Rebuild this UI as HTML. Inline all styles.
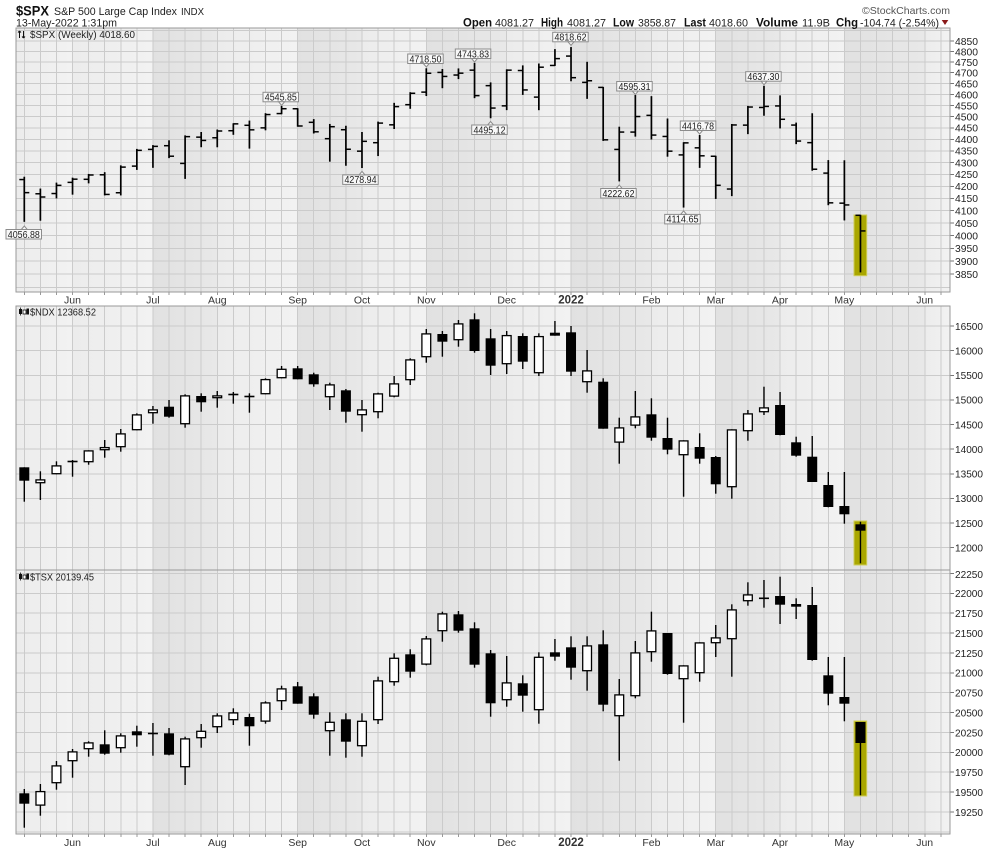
<!DOCTYPE html>
<html><head><meta charset="utf-8">
<style>
html,body{margin:0;padding:0;background:#fff;}
svg{display:block;font-family:"Liberation Sans",Arial,sans-serif;}
.yl{font-size:10.5px;fill:#222;}
.xl{font-size:10.5px;fill:#333;text-anchor:middle;}
.an{font-size:10px;fill:#222;text-anchor:middle;}
.ab{fill:#f8f8f8;stroke:#8c8c8c;stroke-width:1;}
</style></head><body>
<svg id="c" width="1000" height="850" viewBox="0 0 1000 850" xmlns="http://www.w3.org/2000/svg">
<defs>
<linearGradient id="gd" x1="0" x2="1" y1="0" y2="0"><stop offset="0" stop-color="#e1e1e1"/><stop offset="1" stop-color="#e8e8e8"/></linearGradient>
<linearGradient id="gl" x1="0" x2="1" y1="0" y2="0"><stop offset="0" stop-color="#ececec"/><stop offset="1" stop-color="#f2f2f2"/></linearGradient>
</defs>
<rect x="0" y="0" width="1000" height="850" fill="#fff"/>
<g id="bg"></g>
<g id="grid" shape-rendering="crispEdges"></g>
<g id="hl"></g>
<g id="bars"></g>
<g id="frames" fill="none" stroke="#999" stroke-width="1" shape-rendering="crispEdges">
<rect x="16" y="28" width="934" height="264"/>
<rect x="16" y="306" width="934" height="264"/>
<rect x="16" y="570" width="934" height="264"/>
</g>

<!-- Header -->
<text x="16" y="15.5" font-size="14" font-weight="bold" fill="#111" textLength="33" lengthAdjust="spacingAndGlyphs">$SPX</text>
<text x="54" y="15" font-size="11" fill="#222" textLength="123" lengthAdjust="spacingAndGlyphs">S&amp;P 500 Large Cap Index</text>
<text x="181" y="15" font-size="10" fill="#222" textLength="23" lengthAdjust="spacingAndGlyphs">INDX</text>
<text x="16" y="26.5" font-size="11" fill="#222" textLength="101" lengthAdjust="spacingAndGlyphs">13-May-2022 1:31pm</text>
<text x="862" y="14" font-size="10.5" fill="#555" textLength="88" lengthAdjust="spacingAndGlyphs">©StockCharts.com</text>

<text x="463" y="26.5" font-size="12" font-weight="bold" fill="#111" textLength="29" lengthAdjust="spacingAndGlyphs">Open</text>
<text x="495" y="26.5" font-size="11" fill="#222" textLength="39" lengthAdjust="spacingAndGlyphs">4081.27</text>
<text x="541" y="26.5" font-size="12" font-weight="bold" fill="#111" textLength="22" lengthAdjust="spacingAndGlyphs">High</text>
<text x="567" y="26.5" font-size="11" fill="#222" textLength="39" lengthAdjust="spacingAndGlyphs">4081.27</text>
<text x="613" y="26.5" font-size="12" font-weight="bold" fill="#111" textLength="21" lengthAdjust="spacingAndGlyphs">Low</text>
<text x="638" y="26.5" font-size="11" fill="#222" textLength="38" lengthAdjust="spacingAndGlyphs">3858.87</text>
<text x="684" y="26.5" font-size="12" font-weight="bold" fill="#111" textLength="22" lengthAdjust="spacingAndGlyphs">Last</text>
<text x="709" y="26.5" font-size="11" fill="#222" textLength="39" lengthAdjust="spacingAndGlyphs">4018.60</text>
<text x="756" y="26.5" font-size="12" font-weight="bold" fill="#111" textLength="42" lengthAdjust="spacingAndGlyphs">Volume</text>
<text x="802" y="26.5" font-size="11" fill="#222" textLength="28" lengthAdjust="spacingAndGlyphs">11.9B</text>
<text x="836" y="26.5" font-size="12" font-weight="bold" fill="#111" textLength="22" lengthAdjust="spacingAndGlyphs">Chg</text>
<text x="860" y="26.5" font-size="11" fill="#222" textLength="79" lengthAdjust="spacingAndGlyphs">-104.74 (-2.54%)</text>
<polygon points="941.7,20 948.3,20 945,25" fill="#8b1a1a"/>

<!-- Panel titles -->
<g stroke="#111" stroke-width="1" fill="none">
<line x1="19.5" y1="31" x2="19.5" y2="38"/><line x1="18" y1="32.5" x2="19.5" y2="31"/><line x1="21" y1="32.5" x2="19.5" y2="31"/>
<line x1="23.5" y1="31" x2="23.5" y2="38"/><line x1="22" y1="36.5" x2="23.5" y2="38"/><line x1="25" y1="36.5" x2="23.5" y2="38"/>
</g>
<text x="30" y="38" font-size="10.5" fill="#222" textLength="105" lengthAdjust="spacingAndGlyphs">$SPX (Weekly) 4018.60</text>
<g fill="#111">
<rect x="19" y="309" width="3" height="5"/><rect x="20.2" y="307.5" width="0.8" height="8"/>
<rect x="23" y="310" width="3" height="4" fill="#fff" stroke="#111" stroke-width="0.8"/>
<rect x="26.5" y="308.5" width="2.5" height="6"/>
</g>
<text x="30" y="315.5" font-size="10.5" fill="#222" textLength="66" lengthAdjust="spacingAndGlyphs">$NDX 12368.52</text>
<g fill="#111">
<rect x="19" y="574" width="3" height="5"/><rect x="20.2" y="572.5" width="0.8" height="8"/>
<rect x="23" y="575" width="3" height="4" fill="#fff" stroke="#111" stroke-width="0.8"/>
<rect x="26.5" y="573.5" width="2.5" height="6"/>
</g>
<text x="30" y="580.5" font-size="10.5" fill="#222" textLength="64" lengthAdjust="spacingAndGlyphs">$TSX 20139.45</text>

<!-- Y axis labels panel 1 -->
<g class="yl">
<text x="955" y="44.8" textLength="23" lengthAdjust="spacingAndGlyphs">4850</text>
<text x="955" y="55.3" textLength="23" lengthAdjust="spacingAndGlyphs">4800</text>
<text x="955" y="65.8" textLength="23" lengthAdjust="spacingAndGlyphs">4750</text>
<text x="955" y="76.5" textLength="23" lengthAdjust="spacingAndGlyphs">4700</text>
<text x="955" y="87.3" textLength="23" lengthAdjust="spacingAndGlyphs">4650</text>
<text x="955" y="98.3" textLength="23" lengthAdjust="spacingAndGlyphs">4600</text>
<text x="955" y="109.3" textLength="23" lengthAdjust="spacingAndGlyphs">4550</text>
<text x="955" y="120.4" textLength="23" lengthAdjust="spacingAndGlyphs">4500</text>
<text x="955" y="131.7" textLength="23" lengthAdjust="spacingAndGlyphs">4450</text>
<text x="955" y="143.1" textLength="23" lengthAdjust="spacingAndGlyphs">4400</text>
<text x="955" y="154.7" textLength="23" lengthAdjust="spacingAndGlyphs">4350</text>
<text x="955" y="166.4" textLength="23" lengthAdjust="spacingAndGlyphs">4300</text>
<text x="955" y="178.2" textLength="23" lengthAdjust="spacingAndGlyphs">4250</text>
<text x="955" y="190.1" textLength="23" lengthAdjust="spacingAndGlyphs">4200</text>
<text x="955" y="202.2" textLength="23" lengthAdjust="spacingAndGlyphs">4150</text>
<text x="955" y="214.5" textLength="23" lengthAdjust="spacingAndGlyphs">4100</text>
<text x="955" y="226.9" textLength="23" lengthAdjust="spacingAndGlyphs">4050</text>
<text x="955" y="239.4" textLength="23" lengthAdjust="spacingAndGlyphs">4000</text>
<text x="955" y="252.1" textLength="23" lengthAdjust="spacingAndGlyphs">3950</text>
<text x="955" y="265" textLength="23" lengthAdjust="spacingAndGlyphs">3900</text>
<text x="955" y="278" textLength="23" lengthAdjust="spacingAndGlyphs">3850</text>
</g>
<!-- Y axis labels panel 2 -->
<g class="yl">
<text x="955" y="329.8" textLength="28" lengthAdjust="spacingAndGlyphs">16500</text>
<text x="955" y="354.4" textLength="28" lengthAdjust="spacingAndGlyphs">16000</text>
<text x="955" y="379.1" textLength="28" lengthAdjust="spacingAndGlyphs">15500</text>
<text x="955" y="403.7" textLength="28" lengthAdjust="spacingAndGlyphs">15000</text>
<text x="955" y="428.3" textLength="28" lengthAdjust="spacingAndGlyphs">14500</text>
<text x="955" y="453" textLength="28" lengthAdjust="spacingAndGlyphs">14000</text>
<text x="955" y="477.6" textLength="28" lengthAdjust="spacingAndGlyphs">13500</text>
<text x="955" y="502.2" textLength="28" lengthAdjust="spacingAndGlyphs">13000</text>
<text x="955" y="526.9" textLength="28" lengthAdjust="spacingAndGlyphs">12500</text>
<text x="955" y="551.5" textLength="28" lengthAdjust="spacingAndGlyphs">12000</text>
</g>
<!-- Y axis labels panel 3 -->
<g class="yl">
<text x="955" y="578" textLength="28" lengthAdjust="spacingAndGlyphs">22250</text>
<text x="955" y="597.1" textLength="28" lengthAdjust="spacingAndGlyphs">22000</text>
<text x="955" y="617" textLength="28" lengthAdjust="spacingAndGlyphs">21750</text>
<text x="955" y="636.9" textLength="28" lengthAdjust="spacingAndGlyphs">21500</text>
<text x="955" y="656.8" textLength="28" lengthAdjust="spacingAndGlyphs">21250</text>
<text x="955" y="676.6" textLength="28" lengthAdjust="spacingAndGlyphs">21000</text>
<text x="955" y="696.5" textLength="28" lengthAdjust="spacingAndGlyphs">20750</text>
<text x="955" y="716.4" textLength="28" lengthAdjust="spacingAndGlyphs">20500</text>
<text x="955" y="736.3" textLength="28" lengthAdjust="spacingAndGlyphs">20250</text>
<text x="955" y="756.1" textLength="28" lengthAdjust="spacingAndGlyphs">20000</text>
<text x="955" y="776" textLength="28" lengthAdjust="spacingAndGlyphs">19750</text>
<text x="955" y="795.9" textLength="28" lengthAdjust="spacingAndGlyphs">19500</text>
<text x="955" y="815.8" textLength="28" lengthAdjust="spacingAndGlyphs">19250</text>
</g>

<!-- X axis labels -->
<g class="xl">
<text x="72.5" y="303.5">Jun</text>
<text x="152.9" y="303.5">Jul</text>
<text x="217.3" y="303.5">Aug</text>
<text x="297.7" y="303.5">Sep</text>
<text x="362" y="303.5">Oct</text>
<text x="426.3" y="303.5">Nov</text>
<text x="506.7" y="303.5">Dec</text>
<text x="571" y="303.5" font-weight="bold" font-size="11.5">2022</text>
<text x="651.4" y="303.5">Feb</text>
<text x="715.7" y="303.5">Mar</text>
<text x="780" y="303.5">Apr</text>
<text x="844.3" y="303.5">May</text>
<text x="924.7" y="303.5">Jun</text>
</g>
<g class="xl">
<text x="72.5" y="846">Jun</text>
<text x="152.9" y="846">Jul</text>
<text x="217.3" y="846">Aug</text>
<text x="297.7" y="846">Sep</text>
<text x="362" y="846">Oct</text>
<text x="426.3" y="846">Nov</text>
<text x="506.7" y="846">Dec</text>
<text x="571" y="846" font-weight="bold" font-size="11.5">2022</text>
<text x="651.4" y="846">Feb</text>
<text x="715.7" y="846">Mar</text>
<text x="780" y="846">Apr</text>
<text x="844.3" y="846">May</text>
<text x="924.7" y="846">Jun</text>
</g>

<!-- Annotation labels -->
<g>
<rect class="ab" x="6" y="229.5" width="35.5" height="9.5"/><polygon class="ab" points="21.3,229.5 24.3,226 27.3,229.5"/>
<text class="an" x="23.8" y="237.8" textLength="32" lengthAdjust="spacingAndGlyphs">4056.88</text>

<rect class="ab" x="263" y="92.3" width="35.5" height="9.5"/><polygon class="ab" points="278.6,101.8 281.6,105.3 284.6,101.8"/>
<text class="an" x="280.8" y="100.6" textLength="32" lengthAdjust="spacingAndGlyphs">4545.85</text>

<rect class="ab" x="342.7" y="174.9" width="35.5" height="9.5"/><polygon class="ab" points="359,174.9 362,171.4 365,174.9"/>
<text class="an" x="360.5" y="183.2" textLength="32" lengthAdjust="spacingAndGlyphs">4278.94</text>

<rect class="ab" x="407.7" y="54" width="35.5" height="9.5"/><polygon class="ab" points="423.3,63.5 426.3,67 429.3,63.5"/>
<text class="an" x="425.5" y="62.3" textLength="32" lengthAdjust="spacingAndGlyphs">4718.50</text>

<rect class="ab" x="455.3" y="49" width="35.5" height="9.5"/><polygon class="ab" points="471.5,58.5 474.5,62 477.5,58.5"/>
<text class="an" x="473.1" y="57.3" textLength="32" lengthAdjust="spacingAndGlyphs">4743.83</text>

<rect class="ab" x="471.7" y="125" width="35.5" height="9.5"/><polygon class="ab" points="487.6,125 490.6,121.5 493.6,125"/>
<text class="an" x="489.5" y="133.3" textLength="32" lengthAdjust="spacingAndGlyphs">4495.12</text>

<rect class="ab" x="552.7" y="32.3" width="35.5" height="9.5"/><polygon class="ab" points="568,41.8 571,45.3 574,41.8"/>
<text class="an" x="570.5" y="40.6" textLength="32" lengthAdjust="spacingAndGlyphs">4818.62</text>

<rect class="ab" x="616.7" y="81.5" width="35.5" height="9.5"/><polygon class="ab" points="632.3,91 635.3,94.5 638.3,91"/>
<text class="an" x="634.5" y="89.8" textLength="32" lengthAdjust="spacingAndGlyphs">4595.31</text>

<rect class="ab" x="600.7" y="188.5" width="35.5" height="9.5"/><polygon class="ab" points="616.2,188.5 619.2,185 622.2,188.5"/>
<text class="an" x="618.5" y="196.8" textLength="32" lengthAdjust="spacingAndGlyphs">4222.62</text>

<rect class="ab" x="664.7" y="214.4" width="35.5" height="9.5"/><polygon class="ab" points="680.6,214.4 683.6,210.9 686.6,214.4"/>
<text class="an" x="682.5" y="222.7" textLength="32" lengthAdjust="spacingAndGlyphs">4114.65</text>

<rect class="ab" x="680.3" y="121" width="35.5" height="9.5"/><polygon class="ab" points="696.6,130.5 699.6,134 702.6,130.5"/>
<text class="an" x="698" y="129.3" textLength="32" lengthAdjust="spacingAndGlyphs">4416.78</text>

<rect class="ab" x="745.7" y="71.7" width="35.5" height="9.5"/><polygon class="ab" points="761,81.2 764,84.7 767,81.2"/>
<text class="an" x="763.4" y="80" textLength="32" lengthAdjust="spacingAndGlyphs">4637.30</text>
</g>
</svg>
<script>
(function(){
const NS="http://www.w3.org/2000/svg";
function el(tag,attrs,parent){const e=document.createElementNS(NS,tag);for(const k in attrs)e.setAttribute(k,attrs[k]);parent.appendChild(e);return e;}
const X=i=>24.3+16.08*i;
const bg=document.getElementById('bg'),grid=document.getElementById('grid'),bars=document.getElementById('bars'),hl=document.getElementById('hl');
const panels=[[28,292],[306,570],[570,834]];
const bounds=[16,72.5,152.9,217.3,297.7,362,426.3,506.7,571,651.4,715.7,780,844.3,924.7,950];
const y1=p=>41+1010*Math.log(4850/p);
const y2=p=>326+(16500-p)*0.04927;
const y3=p=>593.3+(22000-p)*0.0795;
panels.forEach(([t,b])=>{
  for(let k=0;k<bounds.length-1;k++){
    const dark=(k%2==0)&&k>0;
    el('rect',{x:bounds[k],y:t,width:bounds[k+1]-bounds[k],height:b-t,fill:dark?'url(#gd)':'url(#gl)'},bg);
  }
  for(let i=0;i<=57;i++) el('line',{x1:X(i),x2:X(i),y1:t,y2:b,stroke:'#cbcbcb','stroke-width':1},grid);
});
function hline(y,t,b){ if(y>t+0.5&&y<b-0.5){el('line',{x1:16,x2:950,y1:y,y2:y,stroke:'#cbcbcb','stroke-width':1},grid);} }
function ytick(y){el('line',{x1:950,x2:954,y1:y,y2:y,stroke:'#777','stroke-width':1},grid);}
for(let p=3800;p<=4900;p+=50){const y=y1(p);hline(y,28,292);if(p>=3850&&p<=4850)ytick(y);}
for(let p=12000;p<=16500;p+=500){const y=y2(p);hline(y,306,570);ytick(y);}
for(let p=19000;p<=22250;p+=250){const y=y3(p);hline(y,570,834);if(p>=19250)ytick(y);}
for(let i=0;i<=57;i++){
  el('line',{x1:X(i),x2:X(i),y1:292,y2:295,stroke:'#999','stroke-width':1},grid);
  el('line',{x1:X(i),x2:X(i),y1:834,y2:837,stroke:'#999','stroke-width':1},grid);
}
[[215,275.7],[521,565],[721,796]].forEach(([a,b])=>{
  el('rect',{x:854,y:a,width:12.7,height:b-a,fill:'#aaa700',stroke:'#cfcd5a','stroke-width':1},hl);
});
const spx=[
[4228.29,4238.04,4056.88,4173.85],[4169.14,4188.72,4061.41,4155.86],[4170.16,4213.42,4152.15,4204.11],
[4216.52,4234.12,4167.59,4229.89],[4229.34,4249.74,4214.43,4247.44],[4248.31,4257.16,4164.40,4166.45],
[4173.40,4286.12,4164.40,4280.70],[4284.90,4356.46,4271.0,4352.34],[4356.46,4372.87,4279.8,4369.55],
[4372.41,4393.68,4321.07,4327.16],[4296.40,4415.18,4233.13,4411.79],[4409.58,4429.97,4368.0,4395.26],
[4406.86,4440.82,4367.73,4436.52],[4437.77,4468.37,4422.0,4468.00],[4461.65,4480.26,4362.0,4441.67],
[4450.29,4513.33,4441.67,4509.37],[4513.76,4545.85,4513.0,4535.43],[4535.38,4535.43,4457.66,4458.58],
[4474.81,4486.87,4427.76,4432.99],[4402.95,4465.40,4305.91,4455.48],[4442.12,4457.40,4288.52,4357.04],
[4348.84,4429.97,4278.94,4391.34],[4385.44,4475.82,4329.92,4471.37],[4463.72,4559.67,4447.47,4544.90],
[4553.69,4608.08,4537.36,4605.38],[4610.62,4718.50,4595.06,4697.53],[4701.48,4714.92,4630.86,4682.85],
[4689.30,4717.75,4672.78,4697.96],[4712.00,4743.83,4585.43,4594.62],[4640.25,4652.94,4495.12,4538.43],
[4548.37,4713.57,4531.32,4712.02],[4710.30,4731.99,4600.22,4620.64],[4587.90,4740.74,4531.10,4725.79],
[4733.99,4808.93,4733.99,4766.18],[4778.14,4818.62,4662.74,4677.03],[4655.34,4748.83,4582.24,4662.85],
[4632.24,4632.24,4395.34,4397.94],[4356.32,4453.23,4222.62,4431.85],[4431.79,4595.31,4414.02,4500.53],
[4505.75,4590.03,4401.41,4418.64],[4412.61,4489.55,4327.22,4348.87],[4332.74,4385.34,4114.65,4384.65],
[4363.14,4416.78,4279.54,4328.87],[4327.01,4327.01,4150.0,4204.31],[4188.82,4465.40,4161.72,4463.12],
[4462.40,4546.03,4424.94,4543.06],[4541.09,4637.30,4506.27,4545.86],[4547.97,4593.45,4450.04,4488.28],
[4462.64,4471.35,4381.34,4392.59],[4385.63,4512.94,4267.62,4271.78],[4255.34,4308.45,4124.28,4131.93],
[4130.61,4307.66,4062.51,4123.34],[4081.27,4081.27,3858.87,4018.60]];
spx.forEach((d,i)=>{
  const x=X(i);
  el('line',{x1:x,x2:x,y1:y1(d[1])-0.5,y2:y1(d[2])+0.5,stroke:'#000','stroke-width':1.7},bars);
  el('line',{x1:x-5,x2:x,y1:y1(d[0]),y2:y1(d[0]),stroke:'#000','stroke-width':1.5},bars);
  el('line',{x1:x,x2:x+5,y1:y1(d[3]),y2:y1(d[3]),stroke:'#000','stroke-width':1.5},bars);
});
const ndx=[
[467.3,467.3,480.7,501.7,1],[471.3,479.3,483.3,500,0],[461.3,465.3,474.3,474.3,0],[460,461,462,476.7,0],
[450.3,450.3,462.3,464.7,0],[440,447,450.3,457.7,0],[429,433.3,447.3,451.7,0],[413.3,414.3,430.3,430.3,0],
[406,409.3,413.3,423.7,0],[400,406.7,416.7,417.7,1],[394.3,395.3,424.3,427.7,0],[393.3,396,402.3,411.7,1],
[391,395.3,398.3,407.7,0],[392,394,395,403.7,0],[393.3,396,397,412.7,0],[378.3,379,394.3,394.3,0],
[366,368.7,378.3,378.3,0],[366,368.3,379.3,379.3,1],[372.7,374.3,384.3,386.7,1],[382.7,384.3,397.3,410,0],
[389,390.3,411.7,422.7,1],[400,409.3,415.3,431.7,0],[392.7,393.3,412.3,418.3,0],[376,383.3,396.7,397.3,0],
[358.3,359.3,380.3,385,0],[329,333.3,357.3,362.7,0],[331,334,341.7,356.7,1],[320,323.3,340.3,346.7,0],
[313.3,319.3,351,352.7,1],[329,338.3,365.7,375,1],[331,335,364.3,374,0],[333.3,336,361.7,369,1],
[333.3,336,373.3,376,0],[321,332.7,335.7,335.7,1],[326,332.3,371.7,376,1],[350,370.3,382.3,392.7,0],
[378.3,381.7,428.7,428.7,1],[417.7,427.3,442.7,463.7,0],[391,416.3,425.7,428.3,0],[398.3,414.3,437.7,440.7,1],
[417.7,438,449.7,454.3,1],[440.3,440.3,455.3,496.7,0],[433.3,447,458.7,463.7,1],[456,457,484.3,493.7,1],
[429.3,429.3,487.3,498.7,0],[410,413.3,431.3,440.7,0],[386.7,407.3,412.3,415,0],[392,405,435,435.3,1],
[436.7,442.3,455.7,456.7,1],[436,456.7,482,482,1],[472,485,507,507.3,1],[472,506,514.3,523.7,1],
[521.7,524.3,530.7,563.3,1]];
const tsx=[
[789,793.3,803.7,827.7,1],[784,791,805.7,815.7,0],[761,765.3,783.3,789.7,0],[749,751.3,761.3,777.7,0],
[741.3,742.3,749.3,756.7,0],[730.3,744.3,753.7,754.7,1],[733.3,735.3,748.3,752.7,0],[725.7,731.3,735.3,746.7,1],
[723,733,734,755.7,0],[728,733.3,754.7,755.3,1],[736.7,738.3,767.3,785,0],[724,730.7,738.3,747.7,0],
[713.3,715.3,727.3,733,0],[708.3,712.3,720.3,725,0],[713.7,717,726.3,745.7,1],[701.3,702.3,721.7,723.7,0],
[685.7,688.3,701.3,710,0],[682,686.3,703.7,703.7,1],[693.3,696.3,714.7,718.7,1],[712.3,721.7,731.3,755.7,0],
[713.3,719.3,741.7,757.7,1],[713.3,720.7,746.3,756.7,0],[676.7,680.3,720.3,724,0],[653.3,657.7,682.3,685.7,0],
[649.3,654.3,671.7,677.7,1],[636,638.3,664.7,665.3,0],[611.7,613.3,631.3,641.7,0],[611,614.3,630.7,632.7,1],
[622.3,628.3,664.7,667.7,1],[650,653.3,703.3,716.7,1],[656,682.3,700.3,706.7,0],[675.3,683.3,695.7,711.7,1],
[652.3,656.7,710.3,723.7,0],[639,652.3,656.7,660.7,1],[636.3,647.3,667.7,679.7,1],[636.3,645.3,671.3,690.7,0],
[630.3,644.3,704.7,711.3,1],[679,694.3,716.3,760.7,0],[641,652.3,696.3,698.3,0],[611.7,630.3,652.3,661.7,0],
[633,633,674,674.7,1],[665.3,665.3,679.3,722.7,0],[642.3,642.3,673.3,681.7,0],[625,637.3,643.3,657,0],
[604.3,609.3,639.3,676.7,0],[582.3,594.3,601.3,605.7,0],[580,597.8,598.8,607.7,0],[576.7,596,604.7,624,1],
[598.3,604,606.7,619,1],[587,605,660,660.7,1],[657,675.3,693.7,705.3,1],[657,697,703.7,721.3,1],
[722,722,743,795.3,1]];
function candles(arr){
  arr.forEach((d,i)=>{
    const x=X(i);
    el('line',{x1:x,x2:x,y1:d[0],y2:d[3],stroke:'#000','stroke-width':1.4},bars);
    const h=d[2]-d[1];
    if(h<2.2){
      const ym=(d[1]+d[2])/2;
      el('rect',{x:x-5,y:ym-0.8,width:10,height:1.6,fill:'#000'},bars);
    } else if(d[4]){
      el('rect',{x:x-5,y:d[1],width:10,height:h,fill:'#000'},bars);
    } else {
      el('rect',{x:x-4.4,y:d[1]+0.6,width:8.8,height:h-1.2,fill:'#fff',stroke:'#000','stroke-width':1.3},bars);
    }
  });
}
candles(ndx);
candles(tsx);
})();
</script>
</body></html>
